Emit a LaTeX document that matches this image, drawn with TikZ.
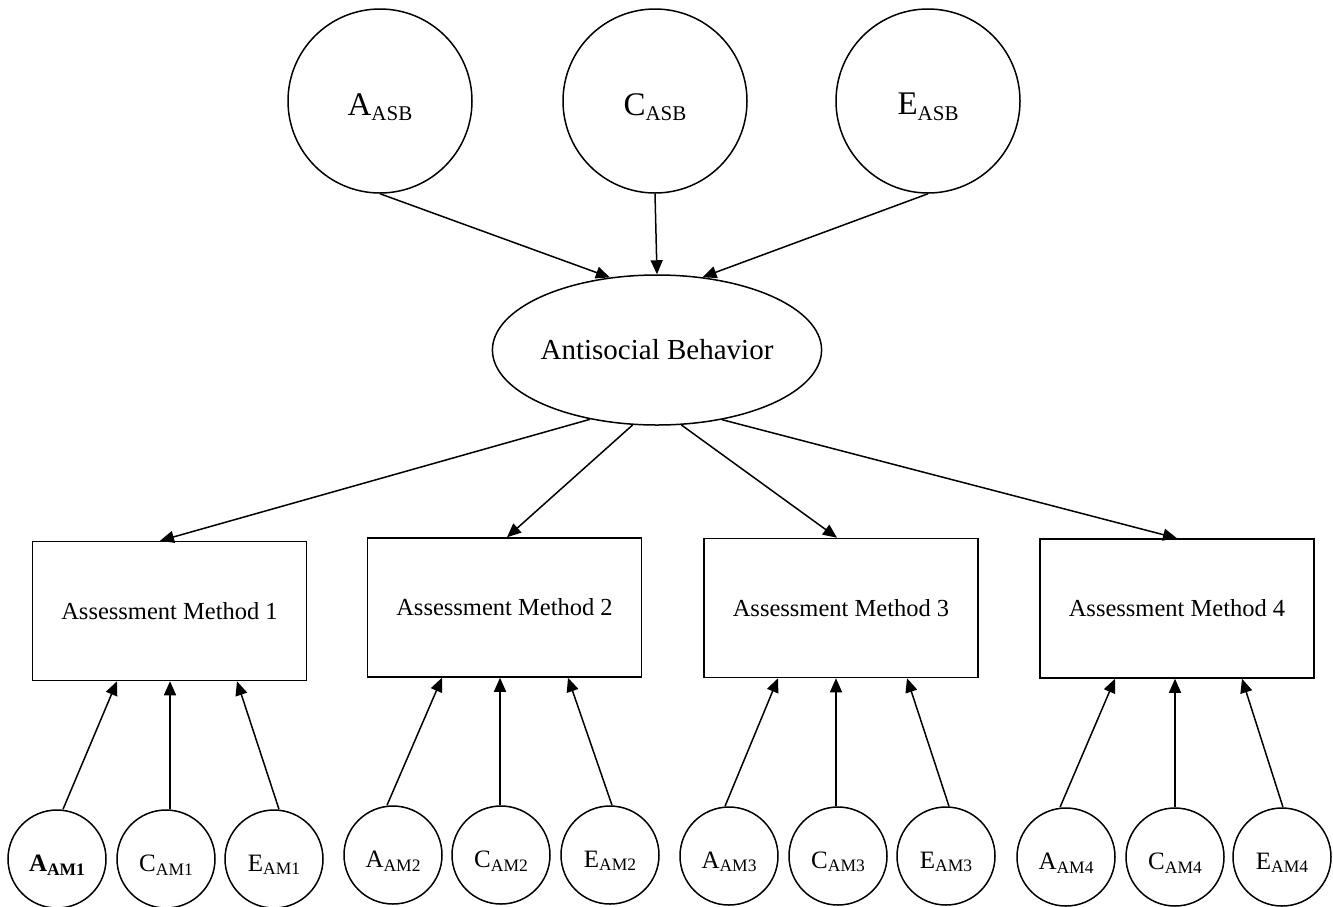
\documentclass[tikz,border=0pt]{standalone}
\usepackage{fontspec}
\setmainfont{Liberation Serif}
\usetikzlibrary{arrows.meta,shapes.geometric}
\newcommand{\toplab}[2]{{\fontsize{33}{33}\selectfont #1}\raisebox{-5.5pt}{\fontsize{21}{21}\selectfont #2}}
\newcommand{\smlab}[2]{{\fontsize{25}{25}\selectfont #1}\raisebox{-3.5pt}{\fontsize{17.5}{17.5}\selectfont #2}}
\begin{document}
\begin{tikzpicture}[x=1pt,y=-1pt,
 bigc/.style={circle,draw,line width=1.5pt,minimum size=184pt,inner sep=0pt},
 smc/.style={circle,draw,line width=1.5pt,minimum size=98pt,inner sep=0pt},
 ell/.style={ellipse,draw,line width=1.5pt,minimum width=274pt,minimum height=150pt,inner sep=0pt,font=\fontsize{29}{29}\selectfont},
 box/.style={rectangle,draw,line width=1.5pt,minimum width=274pt,minimum height=139pt,inner sep=0pt,font=\fontsize{24.5}{25}\selectfont},
 arr/.style={line width=1.5pt,-{Triangle[length=14pt,width=12pt]}},
 tl/.style={yshift=-6pt},
 sl/.style={yshift=-6pt},
]
\useasboundingbox (0,0) rectangle (1333,906);

% top latent factors
\node[bigc,label={[tl]center:\toplab{A}{ASB}}] (A) at (380,101) {};
\node[bigc,label={[tl]center:\toplab{C}{ASB}}] (C) at (655,101) {};
\node[bigc,label={[tl]center:\toplab{E}{ASB}}] (E) at (928,101) {};

% antisocial behavior
\node[ell] (ab) at (657,350) {Antisocial Behavior};

% boxes
\node[box] (b1) at (169.5,611) {Assessment Method 1};
\node[box] (b2) at (504.5,607.5) {Assessment Method 2};
\node[box] (b3) at (841,608) {Assessment Method 3};
\node[box] (b4) at (1177,608.5) {Assessment Method 4};

% bottom circles
\node[smc,label={[sl]center:{\bfseries\smlab{A}{AM1}}}] (a1) at (57,859) {};
\node[smc,label={[sl]center:\smlab{C}{AM1}}] (c1) at (166,859) {};
\node[smc,label={[sl]center:\smlab{E}{AM1}}] (e1) at (274,859) {};
\node[smc,label={[sl]center:\smlab{A}{AM2}}] (a2) at (393,855) {};
\node[smc,label={[sl]center:\smlab{C}{AM2}}] (c2) at (501,855) {};
\node[smc,label={[sl]center:\smlab{E}{AM2}}] (e2) at (610,855) {};
\node[smc,label={[sl]center:\smlab{A}{AM3}}] (a3) at (729,856) {};
\node[smc,label={[sl]center:\smlab{C}{AM3}}] (c3) at (838,856) {};
\node[smc,label={[sl]center:\smlab{E}{AM3}}] (e3) at (946,856) {};
\node[smc,label={[sl]center:\smlab{A}{AM4}}] (a4) at (1066,857) {};
\node[smc,label={[sl]center:\smlab{C}{AM4}}] (c4) at (1175,857) {};
\node[smc,label={[sl]center:\smlab{E}{AM4}}] (e4) at (1282,857) {};

% arrows into antisocial behavior
\draw[arr] (A.south) -- (ab.123);
\draw[arr] (C.south) -- (ab.north);
\draw[arr] (E.south) -- (ab.58);

% arrows to boxes
\draw[arr] (ab.226.7) -- ([xshift=-9.5pt]b1.north);
\draw[arr] (ab.252) -- ([xshift=2.5pt]b2.north);
\draw[arr] (ab.288) -- ([xshift=-4pt]b3.north);
\draw[arr] (ab.313.7) -- (b4.north);

% arrows from method factors
\draw[arr] ([xshift=6pt]a1.north) -- ([xshift=-52.5pt]b1.south);
\draw[arr] ([xshift=4pt]c1.north) -- ([xshift=0.5pt]b1.south);
\draw[arr] ([xshift=5pt]e1.north) -- ([xshift=67.5pt]b1.south);

\draw[arr] ([xshift=-6pt]a2.north) -- ([xshift=-62.5pt]b2.south);
\draw[arr] ([xshift=-1pt]c2.north) -- ([xshift=-4.5pt]b2.south);
\draw[arr] ([xshift=2pt]e2.north) -- ([xshift=63.5pt]b2.south);

\draw[arr] ([xshift=-4pt]a3.north) -- ([xshift=-63pt]b3.south);
\draw[arr] ([xshift=-2pt]c3.north) -- ([xshift=-5pt]b3.south);
\draw[arr] ([xshift=3pt]e3.north) -- ([xshift=66pt]b3.south);

\draw[arr] ([xshift=-6pt]a4.north) -- ([xshift=-62pt]b4.south);
\draw[arr] (c4.north) -- ([xshift=-2pt]b4.south);
\draw[arr] ([xshift=1pt]e4.north) -- ([xshift=65pt]b4.south);
\end{tikzpicture}
\end{document}
